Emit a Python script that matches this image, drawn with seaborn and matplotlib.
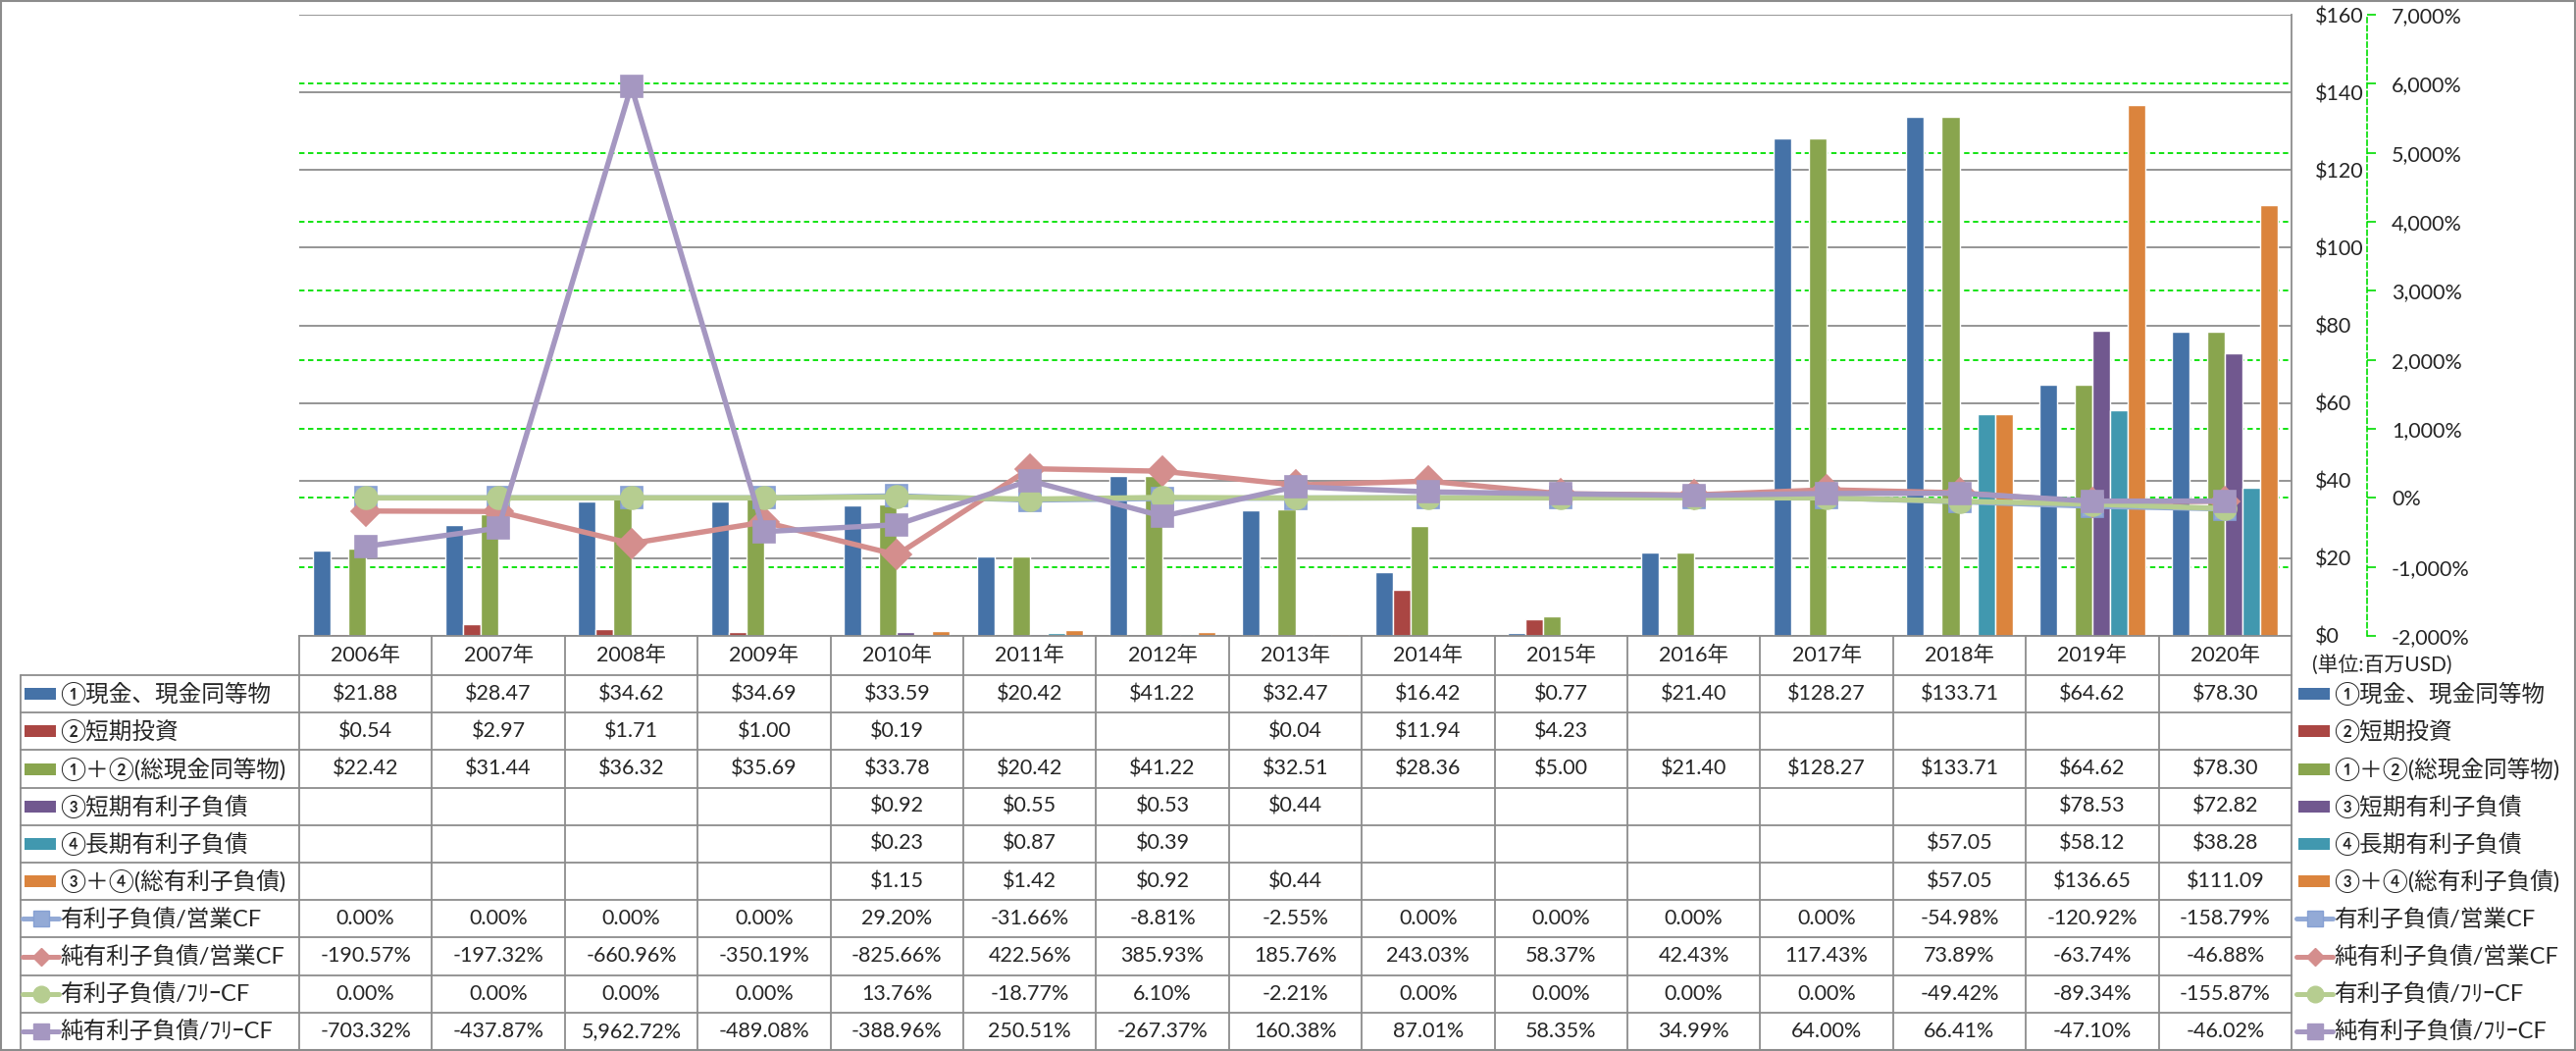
import numpy as np
import pandas as pd
import seaborn as sns
import matplotlib.pyplot as plt
from matplotlib.lines import Line2D
from matplotlib.patches import Rectangle
from matplotlib.transforms import blended_transform_factory

nan = np.nan

years = ["2006年", "2007年", "2008年", "2009年", "2010年", "2011年", "2012年", "2013年",
         "2014年", "2015年", "2016年", "2017年", "2018年", "2019年", "2020年"]

# bar series (百万USD)
cash = [21.88, 28.47, 34.62, 34.69, 33.59, 20.42, 41.22, 32.47, 16.42, 0.77, 21.40, 128.27, 133.71, 64.62, 78.30]
short_inv = [0.54, 2.97, 1.71, 1.00, 0.19, nan, nan, 0.04, 11.94, 4.23, nan, nan, nan, nan, nan]
total_cash = [22.42, 31.44, 36.32, 35.69, 33.78, 20.42, 41.22, 32.51, 28.36, 5.00, 21.40, 128.27, 133.71, 64.62, 78.30]
short_debt = [nan, nan, nan, nan, 0.92, 0.55, 0.53, 0.44, nan, nan, nan, nan, nan, 78.53, 72.82]
long_debt = [nan, nan, nan, nan, 0.23, 0.87, 0.39, nan, nan, nan, nan, nan, 57.05, 58.12, 38.28]
total_debt = [nan, nan, nan, nan, 1.15, 1.42, 0.92, 0.44, nan, nan, nan, nan, 57.05, 136.65, 111.09]

# line series (%)
debt_ocf = [0.00, 0.00, 0.00, 0.00, 29.20, -31.66, -8.81, -2.55, 0.00, 0.00, 0.00, 0.00, -54.98, -120.92, -158.79]
net_debt_ocf = [-190.57, -197.32, -660.96, -350.19, -825.66, 422.56, 385.93, 185.76, 243.03, 58.37, 42.43,
                117.43, 73.89, -63.74, -46.88]
debt_fcf = [0.00, 0.00, 0.00, 0.00, 13.76, -18.77, 6.10, -2.21, 0.00, 0.00, 0.00, 0.00, -49.42, -89.34, -155.87]
net_debt_fcf = [-703.32, -437.87, 5962.72, -489.08, -388.96, 250.51, -267.37, 160.38, 87.01, 58.35, 34.99,
                64.00, 66.41, -47.10, -46.02]

bar_names = ["①現金、現金同等物", "②短期投資", "①＋②(総現金同等物)",
             "③短期有利子負債", "④長期有利子負債", "③＋④(総有利子負債)"]
line_names = ["有利子負債/営業CF", "純有利子負債/営業CF", "有利子負債/ﾌﾘｰCF", "純有利子負債/ﾌﾘｰCF"]

bar_vals = [cash, short_inv, total_cash, short_debt, long_debt, total_debt]
line_vals = [debt_ocf, net_debt_ocf, debt_fcf, net_debt_fcf]

bar_colors = ["#4572A7", "#AA4643", "#89A54E", "#71588F", "#4198AF", "#DB843D"]
line_colors = ["#93AAD6", "#D48E8D", "#B6CD90", "#A597C1"]
line_edges = ["#86A0D3", "#D48E8D", "#B6CD90", "#A597C1"]
line_markers = ["s", "D", "o", "s"]
line_msizes = [16.5, 15.5, 16.5, 16.5]

sns.set_style("white")
plt.rcParams['font.family'] = ['Lato', 'Noto Sans CJK JP', 'DejaVu Sans']

W, H = 2626, 1071
PL, PR, PT, PB = 305, 2336, 15, 648
fig = plt.figure(figsize=(W / 100, H / 100), dpi=100)
ax = fig.add_axes([PL / W, 1 - PB / H, (PR - PL) / W, (PB - PT) / H])

rows = []
for name, vals in zip(bar_names, bar_vals):
    for y, v in zip(years, vals):
        rows.append([y, name, v])
df_bars = pd.DataFrame(rows, columns=["year", "series", "value"]).dropna()

sns.barplot(data=df_bars, x="year", y="value", hue="series", order=years, hue_order=bar_names,
            palette=bar_colors, width=0.8, saturation=1, errorbar=None, legend=False, ax=ax, zorder=2)

ax2 = ax.twinx()
xs = np.arange(len(years))
for i, name in enumerate(line_names):
    sns.lineplot(x=xs, y=line_vals[i], ax=ax2, color=line_colors[i], lw=3.9, marker=line_markers[i],
                 markersize=line_msizes[i], markeredgecolor=line_edges[i], markeredgewidth=1.2,
                 zorder=3 + i)

AXFS = 15.5
# primary ($) axis, labels on the right of the plot
ax.set_ylim(0, 160)
ax.set_yticks(np.arange(0, 161, 20))
ax.set_yticklabels(["$%d" % t for t in np.arange(0, 161, 20)])
ax.yaxis.tick_right()
ax.tick_params(axis='y', which='both', left=False, labelleft=False, right=True, labelright=True,
               length=0, pad=17, labelsize=AXFS)
ax.tick_params(axis='x', length=0, labelbottom=False)
ax.yaxis.grid(True, color="#8C8C8C", lw=1.3)
ax.set_axisbelow(True)
for s in ["top", "left"]:
    ax.spines[s].set_visible(False)
for s in ["right", "bottom"]:
    ax.spines[s].set_color("#8C8C8C")
    ax.spines[s].set_linewidth(1.3)
ax.set_xlabel("")
ax.set_ylabel("")

# secondary (%) axis
pct_ticks = np.arange(-2000, 7001, 1000)
ax2.set_ylim(-2000, 7000)
ax2.set_yticks(pct_ticks, labels=["{:,}%".format(t) for t in pct_ticks])
for lab, t in zip(ax2.get_yticklabels(), pct_ticks):
    lab.set_color("red" if t < 0 else "black")
ax2.tick_params(axis='y', length=6.5, width=1.2, color="#00DD00", pad=11.5, labelsize=AXFS, direction="out")
ax2.spines['right'].set_position(('outward', 55.4))
ax2.spines['right'].set_color("#00DD00")
ax2.spines['right'].set_linestyle((0, (3, 2)))
ax2.spines['right'].set_linewidth(1.2)
for s in ["top", "left", "bottom"]:
    ax2.spines[s].set_visible(False)
ax2.set_ylabel("")

# secondary gridlines behind the bars
gtrans = blended_transform_factory(ax.transAxes, ax2.transData)
for t in pct_ticks[1:-1]:
    ax.add_line(Line2D([0, 1], [t, t], transform=gtrans, color="#00E000", lw=1.3,
                       ls=(0, (3, 2)), zorder=1))

ax.set_xlim(-0.5, len(years) - 0.5)

# data table below the plot
gray = "#8C8C8C"
ftr = fig.transFigure


def fx(px):
    return px / W


def fy(py):
    return 1 - py / H


HDR_B = 688
RH = 38.2
LX = 21
n_rows = len(bar_names) + len(line_names)
bottom = HDR_B + RH * n_rows
cw = (PR - PL) / len(years)

for k in range(len(years) + 1):
    x = PL + cw * k
    fig.add_artist(Line2D([fx(x), fx(x)], [fy(PB), fy(bottom)], transform=ftr, color=gray, lw=1.3))
fig.add_artist(Line2D([fx(LX), fx(LX)], [fy(HDR_B), fy(bottom)], transform=ftr, color=gray, lw=1.3))
for r in range(n_rows + 1):
    y = HDR_B + RH * r
    fig.add_artist(Line2D([fx(LX), fx(PR)], [fy(y), fy(y)], transform=ftr, color=gray, lw=1.3))

FS = 15.5
LFS = 17
for k, yr in enumerate(years):
    fig.text(fx(PL + cw * (k + 0.5)), fy((PB + HDR_B) / 2), yr, ha="center", va="center", fontsize=FS)

all_names = bar_names + line_names


def draw_key(x0, yc, r):
    if r < len(bar_names):
        fig.add_artist(Rectangle((fx(x0 + 2), fy(yc + 6)), fx(32), 12 / H, transform=ftr,
                                 color=bar_colors[r], lw=0))
    else:
        i = r - len(bar_names)
        ms = 9.5 if line_markers[i] == "D" else 12
        fig.add_artist(Line2D([fx(x0), fx(x0 + 18.5), fx(x0 + 37)], [fy(yc)] * 3, transform=ftr,
                              color=line_colors[i], lw=3.6, marker=line_markers[i], markevery=[1],
                              markersize=ms, markeredgecolor=line_edges[i]))


for r in range(n_rows):
    yc = HDR_B + RH * (r + 0.5)
    draw_key(23, yc, r)
    fig.text(fx(61), fy(yc), all_names[r], ha="left", va="center", fontsize=LFS)
    draw_key(2341, yc, r)
    fig.text(fx(2379), fy(yc), all_names[r], ha="left", va="center", fontsize=LFS)
    if r < len(bar_names):
        vals = bar_vals[r]
        txts = ["" if np.isnan(v) else "${:,.2f}".format(v) for v in vals]
    else:
        vals = line_vals[r - len(bar_names)]
        txts = ["{:,.2f}%".format(v) for v in vals]
    for k, t in enumerate(txts):
        fig.text(fx(PL + cw * (k + 0.5)), fy(yc), t, ha="center", va="center", fontsize=FS)

fig.text(fx(2357), fy(677), "(単位:百万USD)", ha="left", va="center", fontsize=15)

fig.add_artist(Rectangle((0.0005, 0.001), 0.999, 0.998, transform=ftr, fill=False, edgecolor=gray, lw=1.5))

fig.savefig("out.png", dpi=100)
